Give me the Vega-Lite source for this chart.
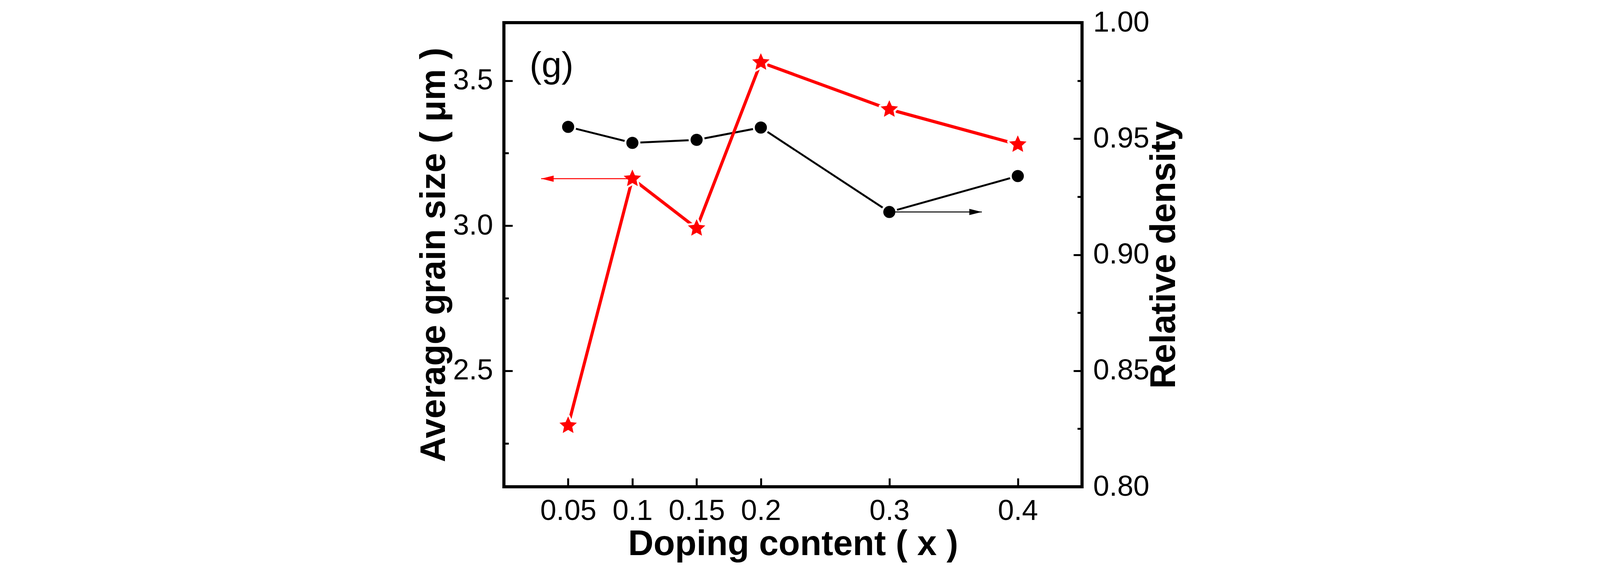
{
  "$schema": "https://vega.github.io/schema/vega-lite/v6.json",
  "width": 1480,
  "height": 1189,
  "autosize": {"type": "none"},
  "padding": {"left": 1290, "top": 58, "right": 1358, "bottom": 226},
  "background": "white",
  "datasets": {
    "samples": [
      {"x": 0.05, "grain": 2.311, "density": 0.9551},
      {"x": 0.1, "grain": 3.162, "density": 0.9482},
      {"x": 0.15, "grain": 2.991, "density": 0.9495},
      {"x": 0.2, "grain": 3.563, "density": 0.9548},
      {"x": 0.3, "grain": 3.401, "density": 0.9184},
      {"x": 0.4, "grain": 3.28, "density": 0.9339}
    ],
    "arrows": [
      {"series": "grain", "x": 0.1, "tip": 0.029, "level": 3.162},
      {"series": "density", "x": 0.3, "tip": 0.372, "level": 0.9184}
    ],
    "panel": [{"label": "(g)", "x": 0.02, "level": 3.512}]
  },
  "encoding": {
    "x": {
      "field": "x",
      "type": "quantitative",
      "title": "Doping content ( x )",
      "scale": {"domain": [0, 0.45], "nice": false, "zero": false},
      "axis": {
        "values": [0.05, 0.1, 0.15, 0.2, 0.3, 0.4],
        "labelExpr": "format(datum.value, '~g')",
        "tickSize": -22,
        "labelPadding": 48,
        "titlePadding": 4
      }
    }
  },
  "layer": [
    {
      "data": {"name": "samples"},
      "mark": {"type": "line", "color": "black", "strokeWidth": 5, "strokeCap": "round"},
      "encoding": {
        "y": {
          "field": "density",
          "type": "quantitative",
          "scale": {"domain": [0.8, 1.0], "nice": false, "zero": false},
          "axis": {
            "orient": "right",
            "values": [0.8, 0.85, 0.9, 0.95, 1.0],
            "format": ".2f",
            "tickSize": -22,
            "labelPadding": 50,
            "title": "Relative density",
            "titleAngle": 270,
            "titleBaseline": "top",
            "titlePadding": -6
          }
        }
      }
    },
    {
      "data": {"name": "samples"},
      "mark": {
        "type": "point",
        "shape": "circle",
        "size": 1700,
        "filled": true,
        "color": "white",
        "opacity": 1
      },
      "encoding": {
        "y": {
          "field": "density",
          "type": "quantitative",
          "scale": {"domain": [0.8, 1.0], "nice": false, "zero": false},
          "axis": null
        }
      }
    },
    {
      "data": {"name": "samples"},
      "mark": {
        "type": "point",
        "shape": "circle",
        "size": 960,
        "filled": true,
        "color": "black",
        "opacity": 1
      },
      "encoding": {
        "y": {
          "field": "density",
          "type": "quantitative",
          "scale": {"domain": [0.8, 1.0], "nice": false, "zero": false},
          "axis": null
        }
      }
    },
    {
      "data": {"name": "arrows"},
      "transform": [{"filter": "datum.series == 'density'"}],
      "mark": {"type": "rule", "color": "black", "strokeWidth": 2.5},
      "encoding": {
        "x2": {"field": "tip"},
        "y": {
          "field": "level",
          "type": "quantitative",
          "scale": {"domain": [0.8, 1.0], "nice": false, "zero": false},
          "axis": {
            "orient": "right",
            "values": [0.825, 0.875, 0.925, 0.975],
            "labels": false,
            "tickSize": -12,
            "title": null
          }
        }
      }
    },
    {
      "data": {"name": "arrows"},
      "transform": [{"filter": "datum.series == 'density'"}],
      "mark": {
        "type": "point",
        "shape": "M 0 0 L -2 -0.5 L -2 0.5 Z",
        "size": 1024,
        "filled": true,
        "color": "black",
        "opacity": 1
      },
      "encoding": {
        "x": {"field": "tip", "type": "quantitative", "title": "Doping content ( x )"},
        "y": {
          "field": "level",
          "type": "quantitative",
          "scale": {"domain": [0.8, 1.0], "nice": false, "zero": false},
          "axis": null
        }
      }
    },
    {
      "data": {"name": "samples"},
      "mark": {"type": "line", "color": "#ff0000", "strokeWidth": 8, "strokeCap": "round"},
      "encoding": {
        "y": {
          "field": "grain",
          "type": "quantitative",
          "scale": {"domain": [2.1, 3.7], "nice": false, "zero": false},
          "axis": {
            "orient": "left",
            "values": [2.5, 3.0, 3.5],
            "format": ".1f",
            "tickSize": -22,
            "labelPadding": 50,
            "title": "Average grain size ( μm )",
            "titleAngle": 270,
            "titleBaseline": "bottom",
            "titlePadding": 2
          }
        }
      }
    },
    {
      "data": {"name": "samples"},
      "mark": {
        "type": "point",
        "shape": "M 0 -1 L 0.276 -0.38 L 0.951 -0.309 L 0.447 0.145 L 0.588 0.809 L 0 0.47 L -0.588 0.809 L -0.447 0.145 L -0.951 -0.309 L -0.276 -0.38 Z",
        "size": 2200,
        "filled": true,
        "fill": "white",
        "stroke": "white",
        "strokeWidth": 10,
        "strokeJoin": "round",
        "opacity": 1
      },
      "encoding": {
        "y": {
          "field": "grain",
          "type": "quantitative",
          "scale": {"domain": [2.1, 3.7], "nice": false, "zero": false},
          "axis": null
        }
      }
    },
    {
      "data": {"name": "samples"},
      "mark": {
        "type": "point",
        "shape": "M 0 -1 L 0.276 -0.38 L 0.951 -0.309 L 0.447 0.145 L 0.588 0.809 L 0 0.47 L -0.588 0.809 L -0.447 0.145 L -0.951 -0.309 L -0.276 -0.38 Z",
        "size": 2200,
        "filled": true,
        "color": "#ff0000",
        "opacity": 1
      },
      "encoding": {
        "y": {
          "field": "grain",
          "type": "quantitative",
          "scale": {"domain": [2.1, 3.7], "nice": false, "zero": false},
          "axis": null
        }
      }
    },
    {
      "data": {"name": "arrows"},
      "transform": [{"filter": "datum.series == 'grain'"}],
      "mark": {"type": "rule", "color": "#ff0000", "strokeWidth": 2.5},
      "encoding": {
        "x2": {"field": "tip"},
        "y": {
          "field": "level",
          "type": "quantitative",
          "scale": {"domain": [2.1, 3.7], "nice": false, "zero": false},
          "axis": {
            "orient": "left",
            "values": [2.25, 2.75, 3.25],
            "labels": false,
            "tickSize": -12,
            "title": null
          }
        }
      }
    },
    {
      "data": {"name": "arrows"},
      "transform": [{"filter": "datum.series == 'grain'"}],
      "mark": {
        "type": "point",
        "shape": "M 0 0 L 2 -0.5 L 2 0.5 Z",
        "size": 1024,
        "filled": true,
        "color": "#ff0000",
        "opacity": 1
      },
      "encoding": {
        "x": {"field": "tip", "type": "quantitative", "title": "Doping content ( x )"},
        "y": {
          "field": "level",
          "type": "quantitative",
          "scale": {"domain": [2.1, 3.7], "nice": false, "zero": false},
          "axis": null
        }
      }
    },
    {
      "data": {"name": "panel"},
      "mark": {
        "type": "text",
        "align": "left",
        "baseline": "alphabetic",
        "font": "Liberation Sans",
        "fontSize": 92,
        "color": "black"
      },
      "encoding": {
        "text": {"field": "label"},
        "y": {
          "field": "level",
          "type": "quantitative",
          "scale": {"domain": [2.1, 3.7], "nice": false, "zero": false},
          "axis": null
        }
      }
    }
  ],
  "resolve": {"scale": {"y": "independent"}},
  "config": {
    "view": {"stroke": "black", "strokeWidth": 8},
    "axis": {
      "domain": false,
      "grid": false,
      "ticks": true,
      "tickColor": "black",
      "tickWidth": 5,
      "labelColor": "black",
      "labelFont": "Liberation Sans",
      "labelFontSize": 74,
      "labelOverlap": false,
      "titleFont": "Liberation Sans",
      "titleFontSize": 90,
      "titleFontWeight": "bold",
      "titleColor": "black"
    }
  }
}
